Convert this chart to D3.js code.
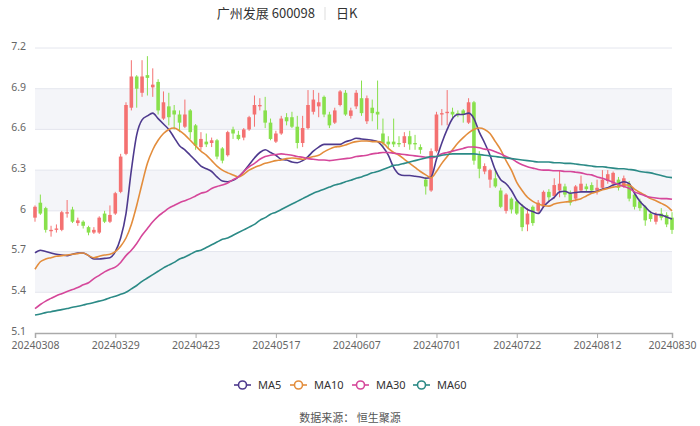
<!DOCTYPE html>
<html><head><meta charset="utf-8">
<script src="https://cdn.jsdelivr.net/npm/d3@7/dist/d3.min.js"></script>
<style>html,body{margin:0;padding:0;background:#fff;}svg{display:block;font-family:"Noto Sans CJK SC","Noto Sans",sans-serif;}</style>
</head><body>
<svg id="c" width="700" height="426"></svg>
<script>
const dates = ["20240308","20240311","20240312","20240313","20240314","20240315","20240318","20240319","20240320","20240321","20240322","20240325","20240326","20240327","20240328","20240329",
"20240401","20240402","20240403","20240408","20240409","20240410","20240411","20240412","20240415","20240416","20240417","20240418","20240419","20240422","20240423",
"20240424","20240425","20240426","20240429","20240430","20240506","20240507","20240508","20240509","20240510","20240513","20240514","20240515","20240516","20240517",
"20240520","20240521","20240522","20240523","20240524","20240527","20240528","20240529","20240530","20240531","20240603","20240604","20240605","20240606","20240607",
"20240611","20240612","20240613","20240614","20240617","20240618","20240619","20240620","20240621","20240624","20240625","20240626","20240627","20240628","20240701",
"20240702","20240703","20240704","20240705","20240708","20240709","20240710","20240711","20240712","20240715","20240716","20240717","20240718","20240719","20240722",
"20240723","20240724","20240725","20240726","20240729","20240730","20240731","20240801","20240802","20240805","20240806","20240807","20240808","20240809","20240812",
"20240813","20240814","20240815","20240816","20240819","20240820","20240821","20240822","20240823","20240826","20240827","20240828","20240829","20240830"];
const openV = [5.95,6.06,6.02,5.85,5.86,5.86,5.98,6.01,5.91,5.92,5.88,5.84,5.84,5.98,5.92,5.98,6.14,6.42,6.76,6.99,6.87,7.00,6.91,6.95,6.68,6.77,6.74,6.71,6.62,6.74,6.63,6.47,6.51,6.50,6.52,6.46,6.41,6.60,6.56,6.54,6.60,6.71,6.77,6.74,6.65,6.51,6.57,6.69,6.69,6.62,6.50,6.61,6.73,6.77,6.84,6.71,6.65,6.78,6.87,6.70,6.77,6.83,6.66,6.76,6.73,6.57,6.51,6.51,6.50,6.50,6.55,6.50,6.47,6.23,6.15,6.44,6.71,6.72,6.73,6.72,6.74,6.65,6.80,6.41,6.29,6.23,6.24,6.15,6.00,6.09,6.07,6.03,5.90,6.03,6.00,6.03,6.14,6.11,6.15,6.18,6.13,6.09,6.15,6.18,6.19,6.15,6.17,6.22,6.20,6.23,6.18,6.20,6.12,6.07,6.03,5.98,5.92,5.98,5.97,5.95];
const closeV = [6.03,5.98,5.86,5.86,5.87,5.99,5.99,5.92,5.93,5.89,5.84,5.86,5.95,5.92,5.97,6.13,6.40,6.78,6.99,6.90,6.99,6.98,6.93,6.74,6.80,6.69,6.71,6.65,6.71,6.58,6.48,6.53,6.49,6.52,6.40,6.37,6.58,6.57,6.53,6.60,6.69,6.78,6.78,6.65,6.53,6.57,6.68,6.66,6.62,6.50,6.61,6.78,6.82,6.80,6.71,6.63,6.74,6.88,6.71,6.74,6.87,6.72,6.83,6.72,6.71,6.50,6.49,6.49,6.49,6.55,6.49,6.49,6.45,6.18,6.44,6.71,6.72,6.73,6.71,6.71,6.71,6.80,6.37,6.31,6.33,6.30,6.18,6.03,6.12,6.01,5.98,5.88,5.98,5.91,6.06,6.14,6.10,6.19,6.20,6.12,6.06,6.18,6.20,6.16,6.15,6.17,6.23,6.27,6.28,6.17,6.24,6.09,6.03,6.02,5.93,5.94,5.97,5.95,5.90,5.86];
const highV = [6.04,6.12,6.03,5.89,5.90,6.00,6.08,6.03,5.95,5.93,5.89,5.88,5.96,6.00,6.04,6.14,6.42,6.80,7.11,7.00,7.11,7.14,7.05,6.97,6.88,6.87,6.78,6.74,6.82,6.75,6.64,6.58,6.57,6.54,6.53,6.47,6.59,6.62,6.59,6.61,6.70,6.85,6.83,6.84,6.68,6.59,6.70,6.72,6.73,6.70,6.70,6.89,6.89,6.87,6.85,6.73,6.76,6.89,6.89,6.76,6.89,6.96,6.85,6.82,6.96,6.68,6.55,6.68,6.55,6.58,6.59,6.56,6.49,6.25,6.46,6.73,6.75,6.89,6.76,6.74,6.75,6.83,6.81,6.44,6.35,6.31,6.31,6.17,6.13,6.10,6.08,6.05,6.02,6.04,6.08,6.15,6.16,6.24,6.30,6.20,6.15,6.19,6.26,6.20,6.21,6.23,6.30,6.30,6.29,6.25,6.26,6.22,6.13,6.09,6.04,6.00,5.99,6.02,5.99,5.99];
const lowV = [5.92,5.97,5.84,5.81,5.84,5.85,5.95,5.91,5.89,5.87,5.82,5.83,5.83,5.91,5.91,5.97,6.13,6.41,6.74,6.76,6.84,6.85,6.84,6.71,6.67,6.63,6.60,6.58,6.61,6.53,6.45,6.45,6.47,6.47,6.38,6.35,6.40,6.53,6.52,6.52,6.59,6.62,6.74,6.61,6.52,6.50,6.56,6.63,6.61,6.46,6.47,6.60,6.71,6.69,6.69,6.61,6.64,6.77,6.70,6.68,6.75,6.70,6.64,6.66,6.60,6.47,6.46,6.47,6.47,6.47,6.45,6.45,6.42,6.12,6.14,6.43,6.63,6.63,6.68,6.69,6.65,6.64,6.34,6.24,6.27,6.17,6.17,6.02,5.98,5.98,5.97,5.85,5.85,5.89,5.98,6.02,6.07,6.09,6.10,6.10,6.04,6.07,6.14,6.14,6.13,6.12,6.16,6.20,6.18,6.15,6.17,6.07,6.01,6.00,5.89,5.92,5.90,5.93,5.88,5.83];
const ma5 = [5.69,5.71,5.70,5.69,5.68,5.675,5.67,5.68,5.69,5.69,5.67,5.645,5.645,5.65,5.655,5.70,5.80,5.98,6.30,6.56,6.67,6.70,6.72,6.68,6.64,6.60,6.54,6.48,6.45,6.41,6.37,6.33,6.31,6.29,6.25,6.22,6.215,6.225,6.25,6.29,6.34,6.39,6.43,6.45,6.43,6.41,6.38,6.375,6.36,6.355,6.37,6.40,6.44,6.47,6.49,6.49,6.49,6.49,6.51,6.52,6.535,6.53,6.525,6.52,6.51,6.47,6.41,6.32,6.27,6.26,6.26,6.255,6.25,6.24,6.25,6.38,6.50,6.60,6.68,6.71,6.71,6.72,6.68,6.58,6.50,6.41,6.30,6.23,6.20,6.15,6.08,6.04,6.01,5.995,5.98,6.03,6.07,6.10,6.14,6.145,6.13,6.135,6.14,6.14,6.14,6.145,6.16,6.17,6.19,6.20,6.215,6.20,6.13,6.07,6.03,5.99,5.975,5.97,5.955,5.94];
const ma10 = [5.57,5.625,5.645,5.655,5.665,5.67,5.675,5.68,5.685,5.69,5.67,5.655,5.665,5.675,5.68,5.70,5.74,5.80,5.90,6.04,6.20,6.35,6.45,6.52,6.57,6.60,6.61,6.59,6.56,6.52,6.48,6.44,6.41,6.37,6.33,6.30,6.28,6.265,6.25,6.27,6.30,6.32,6.335,6.35,6.36,6.37,6.375,6.385,6.39,6.385,6.38,6.39,6.40,6.41,6.435,6.455,6.47,6.475,6.485,6.50,6.51,6.515,6.515,6.51,6.51,6.50,6.46,6.43,6.41,6.38,6.35,6.32,6.29,6.265,6.245,6.29,6.35,6.40,6.45,6.50,6.54,6.575,6.60,6.61,6.60,6.57,6.51,6.45,6.37,6.30,6.21,6.15,6.10,6.07,6.05,6.04,6.035,6.05,6.06,6.065,6.07,6.08,6.09,6.11,6.13,6.14,6.155,6.165,6.175,6.18,6.19,6.19,6.16,6.135,6.115,6.09,6.075,6.055,6.035,6.00];
const ma30 = [5.28,5.31,5.335,5.355,5.375,5.39,5.405,5.42,5.435,5.455,5.47,5.50,5.525,5.55,5.57,5.585,5.62,5.67,5.71,5.76,5.82,5.87,5.92,5.96,5.99,6.02,6.04,6.06,6.075,6.09,6.11,6.13,6.14,6.165,6.18,6.19,6.205,6.23,6.25,6.29,6.325,6.35,6.38,6.40,6.41,6.415,6.42,6.415,6.41,6.40,6.395,6.385,6.38,6.375,6.375,6.37,6.375,6.38,6.385,6.39,6.40,6.405,6.41,6.42,6.425,6.43,6.43,6.425,6.42,6.415,6.41,6.405,6.40,6.395,6.39,6.40,6.42,6.43,6.44,6.45,6.46,6.47,6.47,6.465,6.455,6.45,6.435,6.42,6.40,6.385,6.36,6.34,6.325,6.315,6.305,6.30,6.30,6.295,6.295,6.29,6.29,6.285,6.28,6.27,6.265,6.25,6.24,6.225,6.21,6.195,6.18,6.165,6.14,6.125,6.11,6.10,6.095,6.09,6.09,6.085];
const ma60 = [5.233,5.24,5.25,5.257,5.265,5.272,5.28,5.29,5.297,5.306,5.315,5.325,5.335,5.345,5.36,5.37,5.385,5.40,5.425,5.45,5.48,5.505,5.53,5.555,5.58,5.60,5.62,5.645,5.66,5.68,5.70,5.71,5.73,5.75,5.77,5.79,5.80,5.82,5.84,5.86,5.88,5.90,5.93,5.95,5.975,5.99,6.01,6.03,6.05,6.07,6.09,6.11,6.13,6.145,6.16,6.175,6.19,6.20,6.215,6.225,6.24,6.25,6.265,6.28,6.29,6.305,6.32,6.335,6.34,6.35,6.36,6.37,6.38,6.39,6.40,6.40,6.41,6.415,6.42,6.42,6.42,6.42,6.42,6.415,6.41,6.405,6.40,6.395,6.39,6.385,6.38,6.375,6.37,6.365,6.36,6.36,6.36,6.355,6.355,6.35,6.35,6.345,6.34,6.335,6.33,6.325,6.325,6.32,6.315,6.31,6.31,6.305,6.30,6.29,6.285,6.28,6.27,6.26,6.25,6.245];
const xTickLabels = ["20240308","20240329","20240423","20240517","20240607","20240701","20240722","20240812","20240830"];
const yTicks = [5.1,5.4,5.7,6.0,6.3,6.6,6.9,7.2];
const seriesNames = ["MA5","MA10","MA30","MA60"];
const seriesColors = ["#4e3a8e","#e38d3c","#d5479a","#2b8a86"];
const upColor = "#f47171", downColor = "#88e04c";

const svg = d3.select("#c");
const L = 35, R = 672, T = 48, B = 333;
const x = d3.scalePoint().domain(dates).range([L, R]);
const y = d3.scaleLinear().domain([5.1, 7.2]).range([B, T]);

// bands
const bandG = svg.append("g");
for (let k = 0; k < yTicks.length - 1; k++) {
  if (k % 2 === 1) {
    bandG.append("rect").attr("x", L).attr("width", R - L)
      .attr("y", y(yTicks[k + 1])).attr("height", y(yTicks[k]) - y(yTicks[k + 1]))
      .attr("fill", "#f4f5f9");
  }
}
// grid
svg.append("g").selectAll("line").data(yTicks.slice(1)).join("line")
  .attr("x1", L).attr("x2", R).attr("y1", d => y(d)).attr("y2", d => y(d))
  .attr("stroke", "#e4e6ee").attr("stroke-width", 1);

// y axis
const yAxis = svg.append("g").attr("transform", `translate(${L - 6},-2)`)
  .call(d3.axisLeft(y).tickValues(yTicks).tickSize(0).tickFormat(d3.format("~g")));
yAxis.select(".domain").remove();
yAxis.selectAll("text").attr("fill", "#666").attr("font-size", 10.5).attr("font-family", "Noto Sans, sans-serif");

// x axis
const xAxis = svg.append("g").attr("transform", `translate(0,${B})`)
  .call(d3.axisBottom(x).tickValues(xTickLabels).tickSize(5).tickPadding(4));
xAxis.select(".domain").attr("stroke", "#aaa").attr("stroke-width", 1.5);
xAxis.selectAll(".tick line").attr("stroke", "#aaa");
xAxis.selectAll("text").attr("fill", "#666").attr("font-size", 10.5).attr("font-family", "Noto Sans, sans-serif");

// candles
const cd = dates.map((d, i) => ({d, o: openV[i], c: closeV[i], h: highV[i], l: lowV[i]}));
const cg = svg.append("g");
const bw = 3.6;
cg.selectAll("line").data(cd).join("line")
  .attr("x1", d => x(d.d)).attr("x2", d => x(d.d))
  .attr("y1", d => y(d.h)).attr("y2", d => y(d.l))
  .attr("stroke", d => d.c >= d.o ? upColor : downColor).attr("stroke-width", 1);
cg.selectAll("rect").data(cd).join("rect")
  .attr("x", d => x(d.d) - bw / 2).attr("width", bw)
  .attr("y", d => y(Math.max(d.o, d.c)))
  .attr("height", d => Math.max(1, Math.abs(y(d.o) - y(d.c))))
  .attr("fill", d => d.c >= d.o ? upColor : downColor);

// MA lines
const maData = [ma5, ma10, ma30, ma60];
const line = d3.line().x((v, i) => x(dates[i])).y(v => y(v)).curve(d3.curveMonotoneX);
maData.forEach((arr, k) => {
  svg.append("path").attr("d", line(arr)).attr("fill", "none")
    .attr("stroke", seriesColors[k]).attr("stroke-width", 1.6);
});

// title
svg.append("text").attr("x", 315).attr("y", 18).attr("text-anchor", "end")
  .attr("font-size", 13).attr("fill", "#333").text("广州发展 600098");
svg.append("line").attr("x1", 325).attr("x2", 325).attr("y1", 7).attr("y2", 20).attr("stroke", "#ddd");
svg.append("text").attr("x", 336).attr("y", 18).attr("font-size", 13).attr("fill", "#333").text("日K");

// legend
const legX = [234, 290, 352, 413];
seriesNames.forEach((n, k) => {
  const g = svg.append("g").attr("transform", `translate(${legX[k]},385)`);
  g.append("line").attr("x1", 0).attr("x2", 17).attr("stroke", seriesColors[k]).attr("stroke-width", 1.6);
  g.append("circle").attr("cx", 8.5).attr("r", 4).attr("fill", "#fff").attr("stroke", seriesColors[k]).attr("stroke-width", 1.6);
  g.append("text").attr("x", 24).attr("y", 4).attr("font-size", 11).attr("fill", "#333")
    .attr("font-family", "Noto Sans, sans-serif").text(n);
});

// source
svg.append("text").attr("x", 350).attr("y", 422).attr("text-anchor", "middle")
  .attr("font-size", 11).attr("fill", "#555").text("数据来源：  恒生聚源");
</script>
</body></html>
